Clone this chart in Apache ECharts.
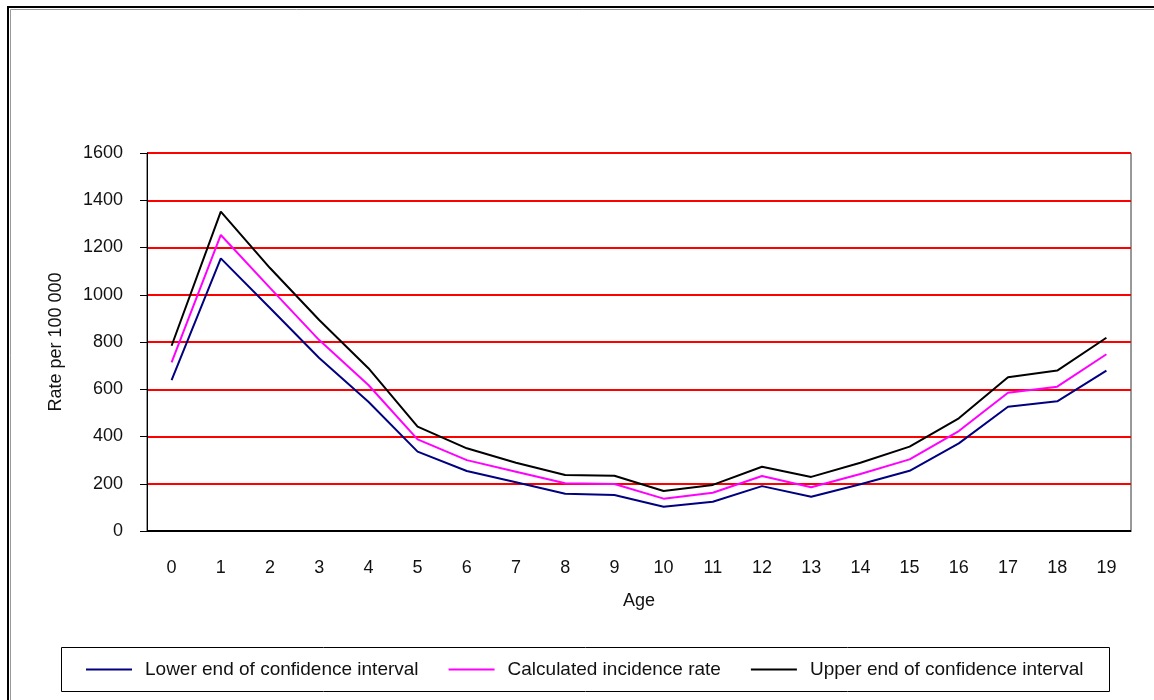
<!DOCTYPE html>
<html>
<head>
<meta charset="utf-8">
<script src="https://cdn.jsdelivr.net/npm/echarts@6/dist/echarts.min.js"></script>
<style>
    html, body { margin: 0; padding: 0; background: #fff; }
    #chart { width: 1154px; height: 700px; }
</style>
</head>
<body>
<div id="chart"></div>
<script>
    // 年龄分类
    let ages = ['0', '1', '2', '3', '4', '5', '6', '7', '8', '9', '10', '11', '12', '13', '14', '15', '16', '17', '18', '19']
    let lowerData = [639, 1154, 944, 732, 547, 336, 254, 206, 158, 152, 103, 124, 190, 145, 198, 255, 371, 526, 549, 679]
    let rateData = [714, 1253, 1029, 808, 618, 388, 300, 251, 202, 199, 137, 162, 233, 185, 241, 303, 423, 585, 611, 748]
    let upperData = [784, 1352, 1113, 893, 689, 442, 350, 289, 237, 234, 169, 195, 272, 229, 289, 357, 477, 651, 679, 818]
    let yTicks = [0, 200, 400, 600, 800, 1000, 1200, 1400, 1600]

    let seriesNames = ['Lower end of confidence interval', 'Calculated incidence rate', 'Upper end of confidence interval']
    let colorList = ['#000080', '#FF00FF', '#000000']

    let font = 'Arial, "Liberation Sans", sans-serif'

    let option = {
        animation: false,
        color: colorList,
        grid: {
            left: 147,
            right: 23,
            top: 153,
            bottom: 169,
            show: true,
            borderColor: '#333',
            borderWidth: 1,
        },
        legend: {
            data: seriesNames,
            left: 86,
            top: 660,
            padding: 0,
            icon: 'rect',
            itemWidth: 46,
            itemHeight: 2,
            itemGap: 30,
            textStyle: {
                fontFamily: font,
                fontSize: 19,
                color: '#111',
                padding: [0, 0, 0, 8],
            },
        },
        xAxis: {
            type: 'category',
            data: ages,
            boundaryGap: true,
            name: 'Age',
            nameLocation: 'middle',
            nameGap: 61,
            nameTextStyle: { fontFamily: font, fontSize: 18, color: '#111' },
            axisLine: { lineStyle: { color: '#000', width: 1 } },
            axisTick: { length: 6, lineStyle: { color: '#000' } },
            axisLabel: { margin: 28, fontFamily: font, fontSize: 18, color: '#111' },
            splitLine: { show: false },
        },
        yAxis: {
            type: 'value',
            min: yTicks[0],
            max: yTicks[yTicks.length - 1],
            interval: 200,
            name: 'Rate per 100 000',
            nameLocation: 'middle',
            nameGap: 82,
            nameTextStyle: { fontFamily: font, fontSize: 18, color: '#111' },
            axisLine: { show: true, lineStyle: { color: '#000', width: 1 } },
            axisTick: { show: true, length: 7, lineStyle: { color: '#000' } },
            axisLabel: {
                margin: 24, fontFamily: font, fontSize: 18, color: '#111',
                formatter: function (v) { return String(v) },
            },
            splitLine: {
                show: true,
                lineStyle: { color: ['#000', '#FF0000', '#FF0000', '#FF0000', '#FF0000', '#FF0000', '#FF0000', '#FF0000', '#FF0000'], width: 2 },
            },
        },
        graphic: [
            {
                type: 'rect',
                shape: { x: 8, y: 7, width: 1200, height: 760 },
                style: { fill: 'none', stroke: '#000', lineWidth: 2 },
                silent: true,
            },
            {
                type: 'rect',
                shape: { x: 10.5, y: 9.5, width: 1200, height: 760 },
                style: { fill: 'none', stroke: '#999', lineWidth: 1 },
                silent: true,
            },
            {
                type: 'rect',
                shape: { x: 61.5, y: 647.5, width: 1048, height: 44 },
                style: { fill: 'none', stroke: '#000', lineWidth: 1 },
                silent: true,
            },
        ],
        series: [
            { name: seriesNames[0], type: 'line', data: lowerData, symbol: 'none', lineStyle: { width: 2 } },
            { name: seriesNames[1], type: 'line', data: rateData, symbol: 'none', lineStyle: { width: 2 } },
            { name: seriesNames[2], type: 'line', data: upperData, symbol: 'none', lineStyle: { width: 2 } },
        ],
    }

    let myChart = echarts.init(document.getElementById('chart'))
    myChart.setOption(option)
</script>
</body>
</html>
